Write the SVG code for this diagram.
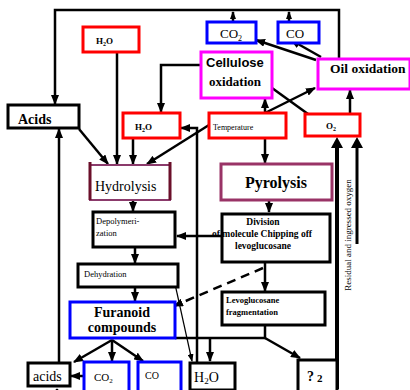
<svg xmlns="http://www.w3.org/2000/svg" width="410" height="390" viewBox="0 0 410 390">
<defs>
<marker id="ah" markerUnits="userSpaceOnUse" markerWidth="10" markerHeight="8" refX="9" refY="4" orient="auto">
<path d="M0,0 L10,4 L0,8 Z" fill="#000"/>
</marker>
<marker id="ahs" markerUnits="userSpaceOnUse" markerWidth="8" markerHeight="6" refX="7" refY="3" orient="auto">
<path d="M0,0 L8,3 L0,6 Z" fill="#000"/>
</marker>
</defs>
<style>
.bx{fill:#fff;stroke-width:3}
.k{stroke:#000}.r{stroke:#ff0000}.b{stroke:#0000ff}.m{stroke:#ff00ff}
.c{fill:none;stroke:#000;stroke-width:2.5}
.a{marker-end:url(#ah)}
.t{font-family:'Liberation Serif','DejaVu Serif',serif;fill:#000}
.s{font-family:'Liberation Sans','DejaVu Sans',sans-serif;fill:#000}
.bd{font-weight:bold}
</style>
<rect width="410" height="390" fill="#fff"/>

<g id="connectors">
<path class="c a" d="M339,59 V10 H55 V104"/>
<path class="c" d="M233,22 V12" marker-end="url(#ahs)"/>
<path class="c" d="M289,22 V12" marker-end="url(#ahs)"/>
<path class="c a" d="M117,52 V164"/>
<path class="c a" d="M201,65 H161 V112"/>
<path class="c a" d="M265,113 V99"/>
<path class="c a" d="M265,113 L315,88"/>
<path class="c" d="M308,114 L272,88"/>
<path class="c a" d="M350,113 V90"/>
<path class="c a" d="M316,60 L256,40"/>
<path class="c a" d="M321,57 L291,40"/>
<path class="c a" d="M79,129 L108,164"/>
<path class="c a" d="M133,138 V164"/>
<path class="c a" d="M209,125 L147,164"/>
<path class="c a" d="M197,362 V128 H181"/>
<path class="c a" d="M265,138 V163"/>
<path class="c a" d="M269,200 V212"/>
<path class="c a" d="M222,236 H177"/>
<path class="c a" d="M133,200 V211"/>
<path class="c a" d="M135,247 V263"/>
<path class="c a" d="M135,287 V301"/>
<path class="c a" d="M265,262 V291"/>
<path class="c a" d="M263,268 L174,306" stroke-dasharray="9,6"/>
<path fill="none" stroke="#000" stroke-width="1.2" d="M175,284 L192,361" marker-end="url(#ahs)"/>
<path class="c" d="M175,338 H265 V325"/>
<path class="c a" d="M210,338 V361"/>
<path class="c a" d="M265,338 L300,358"/>
<path class="c a" d="M112,340 L74,362"/>
<path class="c a" d="M112,340 V361"/>
<path class="c a" d="M112,340 L143,361"/>
<path class="c a" d="M86,376 H71"/>
<path class="c a" d="M59,362 V129"/>
<path class="c a" d="M57,396 V389"/>
<path class="c" d="M160,383 V390"/>
<path fill="none" stroke="#000" stroke-width="4" d="M337,389 V146"/>
<path fill="#000" d="M331,148 L337,137 L343,148 Z"/>
<path fill="none" stroke="#000" stroke-width="3" d="M357,244 V146"/>
<path fill="#000" d="M351,148 L357,137 L363,148 Z"/>
</g>

<g id="h2o_top"><rect class="bx r" x="83" y="27" width="56" height="25"/>
<text class="t bd" x="96" y="44" font-size="9">H<tspan font-size="6" dy="2">2</tspan><tspan dy="-2">O</tspan></text></g>

<g id="co2_top"><rect class="bx b" x="207" y="22" width="49" height="21"/>
<text class="t" x="220" y="38" font-size="13">CO<tspan font-size="8" dy="3">2</tspan></text></g>

<g id="co_top"><rect class="bx b" x="278" y="22" width="41" height="21"/>
<text class="t" x="286" y="38" font-size="13">CO</text></g>

<g id="cellulose"><rect class="bx m" x="201" y="52" width="71" height="46"/>
<text class="s bd" x="206" y="67" font-size="13">Cellulose</text>
<text class="t bd" x="209" y="86" font-size="13">oxidation</text></g>

<g id="oil"><rect class="bx m" x="318" y="59" width="92" height="30"/>
<text class="t bd" x="330" y="73" font-size="13.5">Oil oxidation</text></g>

<g id="acids_top"><rect class="bx k" x="8" y="105" width="71" height="23"/>
<text class="t bd" x="18" y="124" font-size="14">Acids</text></g>

<g id="h2o_mid"><rect class="bx r" x="123" y="113" width="57" height="25"/>
<text class="t bd" x="135" y="130" font-size="9">H<tspan font-size="6" dy="2">2</tspan><tspan dy="-2">O</tspan></text></g>

<g id="temperature"><rect class="bx r" x="209" y="113" width="77" height="25"/>
<text class="t" x="213" y="130" font-size="8">Temperature</text></g>

<g id="o2"><rect class="bx r" x="305" y="114" width="55" height="22"/>
<text class="t bd" x="326" y="129" font-size="9">O<tspan font-size="6" dy="2">2</tspan></text></g>

<g id="hydrolysis"><rect x="90" y="165" width="80" height="35" fill="#fff" stroke="#8b3a6b" stroke-width="2"/>
<path d="M90,162 V200 M170,162 V200" stroke="#6b0f2a" stroke-width="3"/>
<text class="t" x="95" y="191" font-size="14">Hydrolysis</text></g>

<g id="pyrolysis"><rect x="221" y="164" width="111" height="36" fill="#fff" stroke="#993366" stroke-width="3"/>
<text class="t bd" x="276" y="188" font-size="16" text-anchor="middle">Pyrolysis</text></g>

<g id="depolymerization"><rect class="bx k" x="93" y="212" width="82" height="35"/>
<text class="t" x="96" y="224" font-size="8.5">Depolymeri-</text>
<text class="t" x="96" y="236" font-size="8.5">zation</text></g>

<g id="division"><rect class="bx k" x="222" y="214" width="108" height="48"/>
<text class="t bd" x="263" y="225" font-size="9.5" text-anchor="middle">Division</text>
<text class="t bd" x="262" y="237" font-size="9.5" text-anchor="middle">of molecule Chipping off</text>
<text class="t bd" x="263" y="249" font-size="9.5" text-anchor="middle">levoglucosane</text></g>

<g id="dehydration"><rect class="bx k" x="78" y="264" width="100" height="23"/>
<text class="t" x="84" y="277" font-size="8.5">Dehydration</text></g>

<g id="levoglucosane"><rect class="bx k" x="222" y="292" width="103" height="33"/>
<text class="t bd" x="226" y="303" font-size="8.5">Levoglucosane</text>
<text class="t bd" x="226" y="315" font-size="8.5">fragmentation</text></g>

<g id="furanoid"><rect class="bx b" x="70" y="302" width="105" height="36"/>
<text class="t bd" x="122" y="317" font-size="14" text-anchor="middle">Furanoid</text>
<text class="t bd" x="122" y="332" font-size="14" text-anchor="middle">compounds</text></g>

<g id="acids_bottom"><rect class="bx k" x="28" y="363" width="42" height="23"/>
<text class="t" x="33" y="381" font-size="14">acids</text></g>

<g id="co2_bottom"><rect class="bx b" x="84" y="362" width="45" height="30"/>
<text class="t" x="94" y="381" font-size="11">CO<tspan font-size="7" dy="2">2</tspan></text></g>

<g id="co_bottom"><rect class="bx b" x="138" y="362" width="43" height="30"/>
<text class="t" x="145" y="379" font-size="10">CO</text></g>

<g id="h2o_bottom"><rect class="bx k" x="190" y="363" width="45" height="27"/>
<text class="t" x="194" y="382" font-size="14">H<tspan font-size="9" dy="2">2</tspan><tspan dy="-2">O</tspan></text></g>

<g id="q2"><rect class="bx k" x="298" y="360" width="39" height="32"/>
<text class="t bd" x="307" y="381" font-size="14">?<tspan font-size="11" dx="3" dy="1">2</tspan></text></g>

<g id="oxygen_label">
<text class="t" x="0" y="0" font-size="9" fill="#444" text-anchor="middle" transform="translate(351,235) rotate(-90)">Residual and ingressed oxygen</text></g>
</svg>
